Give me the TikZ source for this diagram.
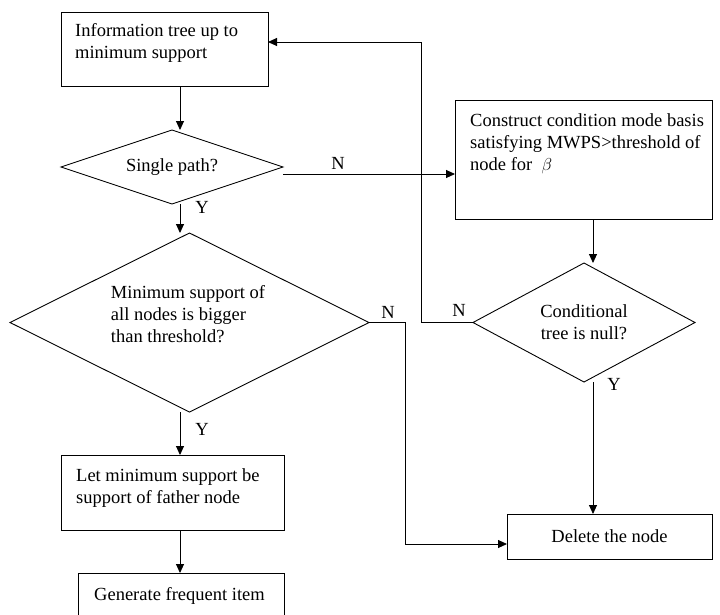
\documentclass[tikz,border=0pt]{standalone}
\usepackage{fontspec}
\setmainfont{Liberation Serif}
\usetikzlibrary{shapes.geometric,arrows.meta,positioning}

\begin{document}
\begin{tikzpicture}
[
x=1pt, y=-1pt,
every node/.style={font=\fontsize{18.5}{22}\selectfont},
ProcBox/.style={rectangle, draw=black, line width=0.9pt, inner sep=0pt, outer sep=0pt},
TestDiamond/.style={diamond, draw=black, line width=0.9pt, aspect=2, inner sep=2pt, outer sep=0pt},
Txt/.style={inner sep=0pt, align=left},
YesNo/.style={inner sep=0pt},
Arrow/.style={-{Triangle[length=9pt,width=8pt]}, line width=0.9pt, draw=black},
]

\path[use as bounding box, fill=white] (0,0) rectangle (720,614);

% vertical arrow lines
\coordinate (lspine) at (180,0);
\coordinate (rspine) at (593,0);

\node[ProcBox, minimum width=207pt, minimum height=74pt] (tree) at (164.5,49) {};
\node[Txt, below right=11pt and 14pt of tree.north west] (treetext) {Information tree up to\\minimum support};

\node[TestDiamond, minimum width=222pt, minimum height=74pt] (single) at (172,167) {Single path?};

\node[TestDiamond, minimum width=359pt, minimum height=179pt] (minsup) at (189.5,322.5) {};
\node[Txt] (minsuptext) at (188,314) {Minimum support of\\all nodes is bigger\\than threshold?};

\node[ProcBox, minimum width=223pt, minimum height=75pt] (father) at (172.5,492.5) {};
\node[Txt, below right=13pt and 15pt of father.north west] (fathertext) {Let minimum support be\\support of father node};

\node[ProcBox, minimum width=206pt, minimum height=60pt] (gen) at (181,603) {};
\node[Txt, below right=14pt and 16pt of gen.north west] (gentext) {Generate frequent item};

\node[ProcBox, minimum width=257pt, minimum height=119pt] (cons) at (583.5,159.5) {};
\node[Txt, below right=13pt and 15pt of cons.north west] (constext)
    {Construct condition mode basis\\satisfying MWPS>threshold of\\node for \ $\beta$};

\node[TestDiamond, minimum width=222pt, minimum height=119pt, align=center] (cond) at (584,322.5)
    {Conditional\\tree is null?};

\node[ProcBox, minimum width=205pt, minimum height=45pt] (delete) at (609.5,536.5) {Delete the node};

\draw[Arrow] (tree.south -| lspine) -- (single.north -| lspine);
\draw[Arrow] (single.south -| lspine) -- (minsup.north -| lspine);
\draw[Arrow] (minsup.south -| lspine) -- (father.north -| lspine);
\draw[Arrow] (father.south -| lspine) -- (gen.north -| lspine);

\draw[Arrow] ([yshift=-7pt]single.east) -- ([yshift=-7pt]single.east -| cons.west);
\draw[Arrow] (cons.south -| rspine) -- (cond.north -| rspine);
\draw[Arrow] (cond.south -| rspine) -- (delete.north -| rspine);

\coordinate (nbend) at (405,544);
\draw[Arrow] (minsup.east) -| (nbend) -- (nbend -| delete.west);
\coordinate (nup) at (421,42);
\draw[Arrow] (cond.west) -| (nup) -- (nup -| tree.east);

\node[YesNo] (nsingle) at (338,163) {N};
\node[YesNo] (ysingle) at (202,207) {Y};
\node[YesNo] (nminsup) at (388,312) {N};
\node[YesNo] (yminsup) at (202,429) {Y};
\node[YesNo] (ncond) at (459,310) {N};
\node[YesNo] (ycond) at (614,384) {Y};

\end{tikzpicture}
\end{document}
